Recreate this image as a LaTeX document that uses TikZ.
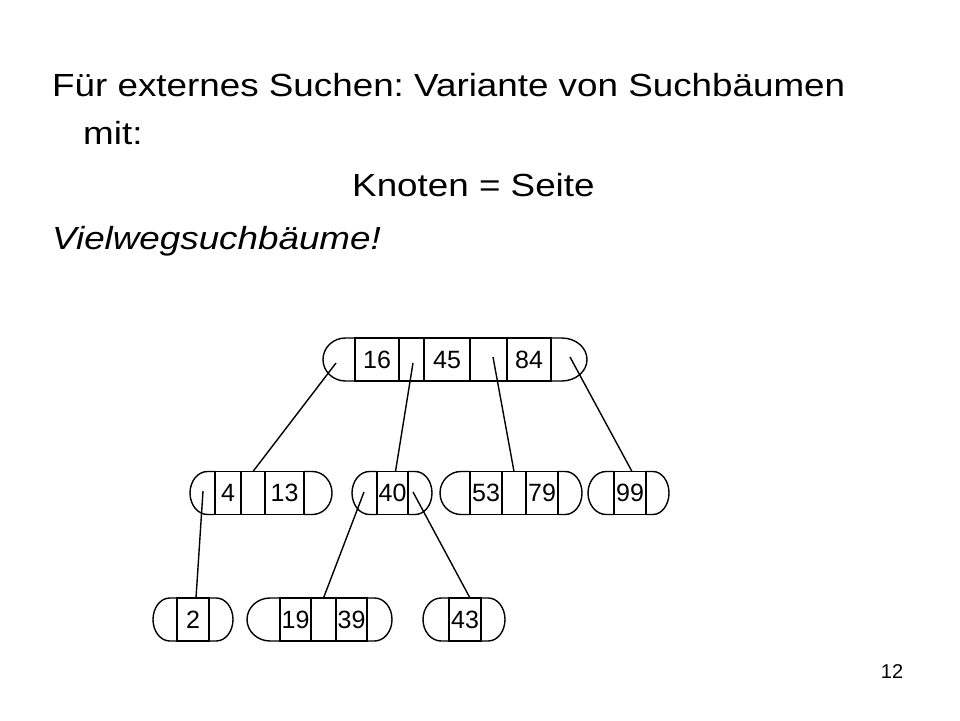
\documentclass[tikz,border=0pt]{standalone}
\usepackage{fontspec}
\setmainfont{Liberation Sans}
\newfontfamily\slidefont[FakeStretch=1.15]{Liberation Sans}
\usetikzlibrary{positioning}
\frenchspacing

\tikzset{
  cell/.style={draw, rectangle, inner sep=0pt, outer sep=0pt, minimum height=43,
    text height=17.5, text depth=0pt, line width=1.4pt, font=\fontsize{25}{25}\selectfont},
  ptr/.style={line width=1.4pt},
  slidetext/.style={inner sep=0pt, anchor=base west, font=\slidefont\fontsize{32}{32}\selectfont}
}
% caps of one page: first cell, last cell, left cap width, right cap width
\newcommand{\pagecaps}[4]{%
  \draw[ptr] (#1.north west) -- ++({-0.3*#3},0)
    arc[start angle=90, end angle=270, x radius={0.7*#3}, y radius=21.5] -- (#1.south west);
  \draw[ptr] (#2.north east) -- ++({0.3*#4},0)
    arc[start angle=90, end angle=-90, x radius={0.7*#4}, y radius=21.5] -- (#2.south east);
}

\begin{document}
\begin{tikzpicture}[x=1pt, y=1pt]
    \useasboundingbox (0,0) rectangle (960,720);

    \node[slidetext] (title) at (52,623) {Für externes Suchen: Variante von Suchbäumen};
    \node[slidetext] (mit) at (83,575) {mit:};
    \node[slidetext] (knoten) at (352,523) {Knoten = Seite};
    \node[slidetext] (viel) at (52,470) {\itshape Vielwegsuchbäume!};
    \node[inner sep=0pt, anchor=base, font=\fontsize{20}{20}\selectfont] (pagenr) at (892,42) {12};

    % root page
    \node[cell, minimum width=44] (r1) at (377,360.5) {16};
    \node[cell, minimum width=25, right=0pt of r1] (r2) {};
    \node[cell, minimum width=46, right=0pt of r2] (r3) {45};
    \node[cell, minimum width=37, right=0pt of r3] (r4) {};
    \node[cell, minimum width=44, right=0pt of r4] (r5) {84};
    \pagecaps{r1}{r5}{32}{36}

    % middle level
    \node[cell, minimum width=26] (a1) at (228,227) {4};
    \node[cell, minimum width=24, right=0pt of a1] (a2) {};
    \node[cell, minimum width=39, right=0pt of a2] (a3) {13};
    \pagecaps{a1}{a3}{25}{28}

    \node[cell, minimum width=31] (b1) at (392.5,227) {40};
    \pagecaps{b1}{b1}{25}{24}

    \node[cell, minimum width=32] (c1) at (486,227) {53};
    \node[cell, minimum width=24, right=0pt of c1] (c2) {};
    \node[cell, minimum width=32, right=0pt of c2] (c3) {79};
    \pagecaps{c1}{c3}{30}{24}

    \node[cell, minimum width=32] (d1) at (630,227) {99};
    \pagecaps{d1}{d1}{26}{23}

    % bottom level
    \node[cell, minimum width=32] (e1) at (193,100.5) {2};
    \pagecaps{e1}{e1}{24}{24}

    \node[cell, minimum width=31] (f1) at (295.5,100.5) {19};
    \node[cell, minimum width=25, right=0pt of f1] (f2) {};
    \node[cell, minimum width=31, right=0pt of f2] (f3) {39};
    \pagecaps{f1}{f3}{33}{25}

    \node[cell, minimum width=32] (g1) at (465,100.5) {43};
    \pagecaps{g1}{g1}{26}{24}

    % pointers
    \coordinate (rL) at (336,357);
    \coordinate (r2p) at (413,357);
    \coordinate (r4p) at (493,363);
    \coordinate (rR) at (570,363);
    \coordinate (aL) at (203,229);
    \coordinate (bL) at (364,228);
    \coordinate (bR) at (413,228);

    \draw[ptr] (rL) -- (a2.north);
    \draw[ptr] (r2p) -- ([xshift=3]b1.north);
    \draw[ptr] (r4p) -- (c2.north);
    \draw[ptr] (rR) -- ([xshift=2]d1.north);
    \draw[ptr] (aL) -- ([xshift=3]e1.north);
    \draw[ptr] (bL) -- (f2.north);
    \draw[ptr] (bR) -- ([xshift=5]g1.north);
\end{tikzpicture}
\end{document}
